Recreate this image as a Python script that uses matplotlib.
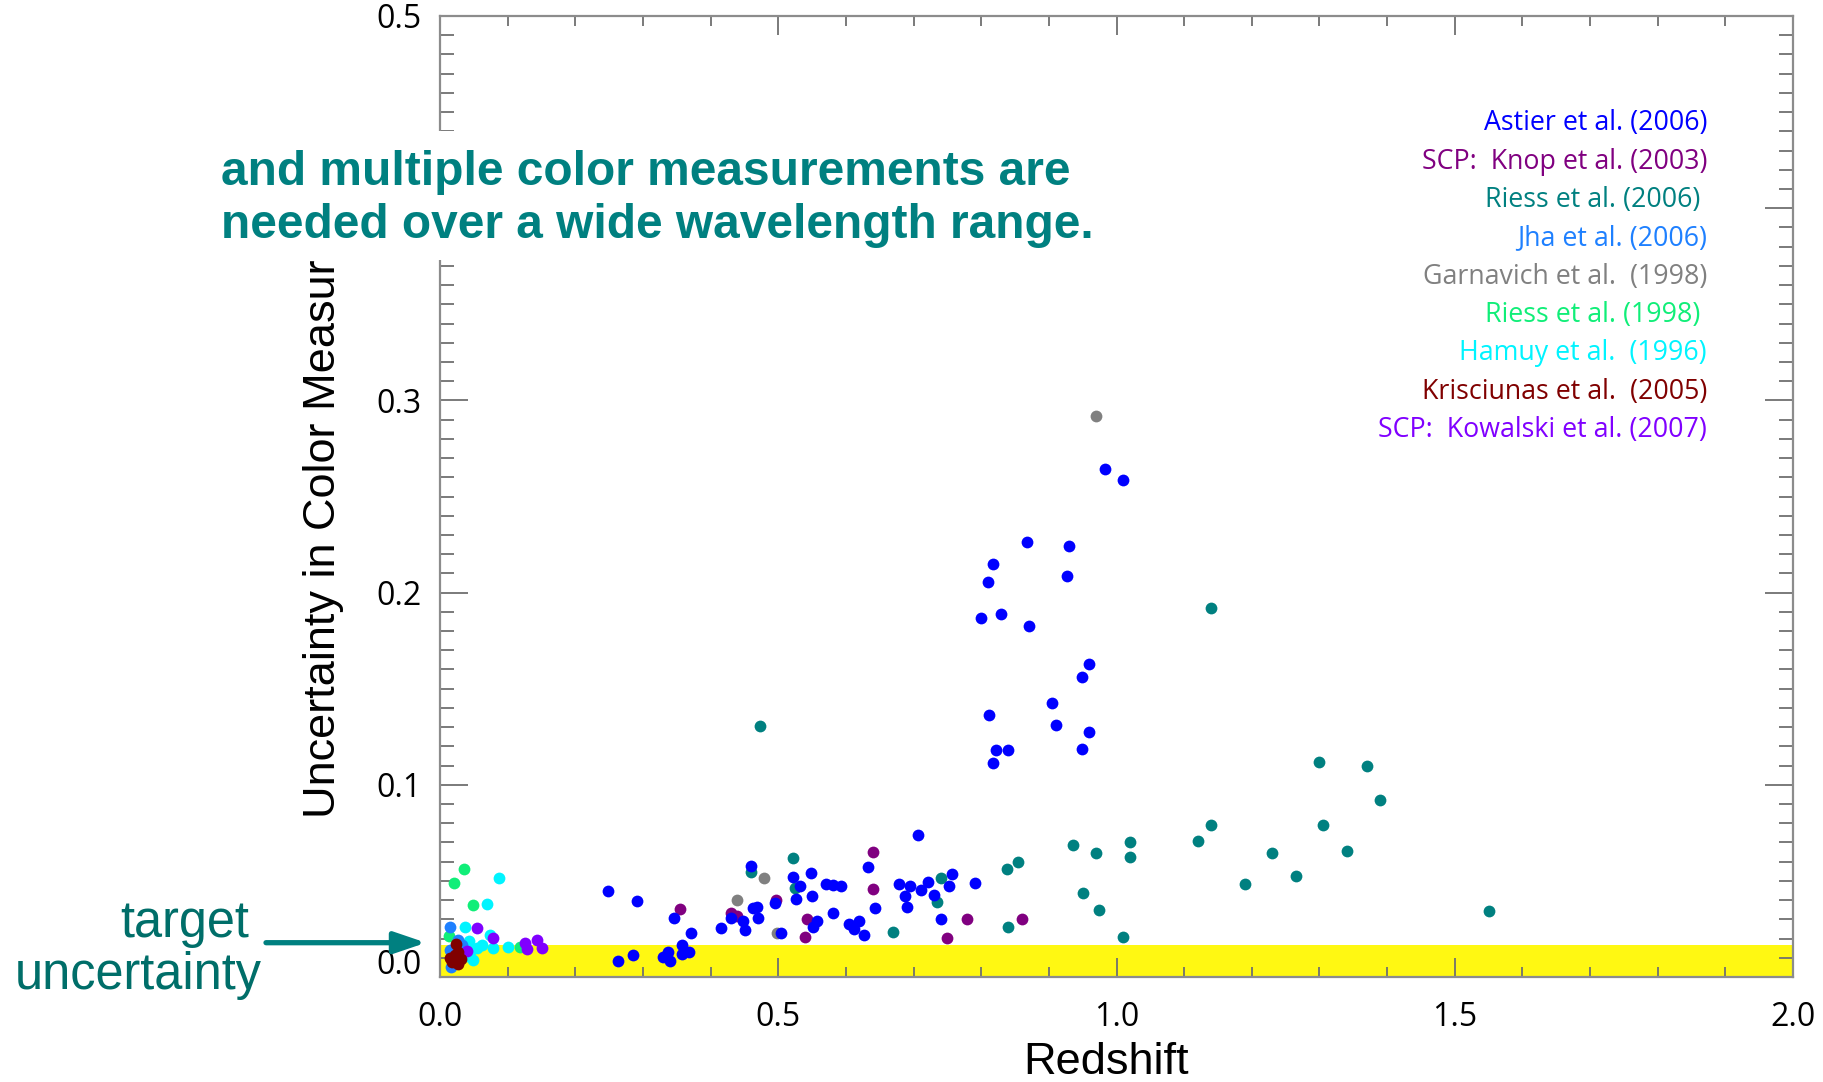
import matplotlib
matplotlib.use("Agg")
import matplotlib.pyplot as plt
import matplotlib.patches as patches
from matplotlib.ticker import MultipleLocator, FuncFormatter, FormatStrFormatter

# colour uncertainty vs redshift for each SN Ia sample
astier_z = [0.983, 1.010, 0.868, 0.930, 0.818, 0.810, 0.927, 0.800, 0.830, 0.870,
            0.960, 0.9485, 0.9046, 0.811, 0.910, 0.960, 0.9495, 0.8214, 0.840, 0.817,
            0.2483, 0.2912, 0.2636, 0.2848, 0.330, 0.3365, 0.340, 0.3572, 0.358, 0.3686,
            0.3705, 0.3459, 0.415, 0.4297, 0.4484, 0.4509, 0.470, 0.4622, 0.468, 0.4602,
            0.4957, 0.504, 0.5213, 0.5322, 0.5258, 0.548, 0.5499, 0.5569, 0.5518, 0.5706,
            0.5814, 0.5923, 0.581, 0.6041, 0.6199, 0.612, 0.6263, 0.6332, 0.643, 0.7066,
            0.6785, 0.6952, 0.6879, 0.6909, 0.7105, 0.7218, 0.7302, 0.7567, 0.7523, 0.7406,
            0.7908]
astier_err = [0.2643, 0.2586, 0.2262, 0.2244, 0.2149, 0.2053, 0.2085, 0.1868, 0.189, 0.1828,
              0.1627, 0.1561, 0.1427, 0.1365, 0.1311, 0.1273, 0.1186, 0.1179, 0.1183, 0.1112,
              0.0446, 0.0394, 0.0085, 0.0113, 0.0102, 0.0128, 0.0082, 0.0166, 0.012, 0.0128,
              0.0227, 0.0305, 0.0253, 0.0305, 0.0291, 0.0246, 0.0307, 0.0359, 0.0362, 0.0576,
              0.0385, 0.0227, 0.0519, 0.0475, 0.0407, 0.054, 0.0423, 0.029, 0.0259, 0.0482,
              0.0479, 0.0472, 0.0333, 0.0274, 0.0291, 0.0248, 0.0219, 0.0571, 0.0357, 0.0739,
              0.0482, 0.0472, 0.042, 0.0364, 0.0451, 0.0493, 0.0428, 0.0536, 0.0472, 0.030,
              0.0489]

knop_z = [0.3543, 0.4297, 0.4396, 0.4967, 0.5421, 0.5396, 0.6397, 0.6397, 0.7494, 0.7795, 0.8598]
knop_err = [0.0355, 0.0335, 0.0319, 0.040, 0.030, 0.021, 0.065, 0.0458, 0.0203, 0.030, 0.030]

riess06_z = [0.4593, 0.4736, 0.5213, 0.5248, 0.6697, 0.7401, 0.7351, 0.8386, 0.8539, 0.8401,
             0.9352, 0.9697, 0.950, 0.9746, 1.0101, 1.0204, 1.0204, 1.1397, 1.1397, 1.120,
             1.190, 1.2303, 1.2649, 1.2998, 1.3048, 1.3403, 1.370, 1.390, 1.5506]
riess06_err = [0.0545, 0.1304, 0.0621, 0.0461, 0.0234, 0.0515, 0.039, 0.0563, 0.060, 0.026,
               0.0688, 0.0647, 0.0439, 0.0347, 0.021, 0.070, 0.0626, 0.192, 0.0789, 0.0709,
               0.0484, 0.0647, 0.0524, 0.112, 0.0789, 0.0656, 0.110, 0.0921, 0.0342]

jha_z = [0.0153, 0.027, 0.0148, 0.0158, 0.021, 0.033]
jha_err = [0.0262, 0.0193, 0.014, 0.0054, 0.0105, 0.0165]

garnavich_z = [0.4396, 0.4785, 0.4977, 0.970]
garnavich_err = [0.0399, 0.0517, 0.0227, 0.2919]

riess98_z = [0.035, 0.0212, 0.0483, 0.0138, 0.118]
riess98_err = [0.056, 0.049, 0.0373, 0.0212, 0.0154]

hamuy_z = [0.0872, 0.070, 0.0365, 0.0744, 0.0433, 0.0616, 0.078, 0.1005, 0.0493, 0.045, 0.055, 0.038]
hamuy_err = [0.0515, 0.0381, 0.026, 0.022, 0.0189, 0.0168, 0.0149, 0.0154, 0.0088, 0.013, 0.015, 0.011]

kowalski_z = [0.054, 0.0783, 0.1251, 0.129, 0.1439, 0.1513, 0.040]
kowalski_err = [0.0255, 0.0201, 0.0175, 0.0146, 0.019, 0.0153, 0.0135]

krisciunas_z = [0.0237, 0.027, 0.0148, 0.0306, 0.022, 0.018, 0.026]
krisciunas_err = [0.0172, 0.0132, 0.0097, 0.0094, 0.0115, 0.008, 0.007]

target_err = 0.0165

legend_labels = ["Astier et al. (2006)", "SCP:  Knop et al. (2003)", "Riess et al. (2006) ",
                 "Jha et al. (2006)", "Garnavich et al.  (1998)", "Riess et al. (1998) ",
                 "Hamuy et al.  (1996)", "Krisciunas et al.  (2005)", "SCP:  Kowalski et al. (2007)"]

C_ASTIER = '#0000ff'
C_KNOP = '#800080'
C_RIESS06 = '#008080'
C_JHA = '#1e80ff'
C_GARN = '#808080'
C_RIESS98 = '#10ee78'
C_HAMUY = '#00f4ff'
C_KRIS = '#800000'
C_KOWAL = '#8000ff'
legend_colors = [C_ASTIER, C_KNOP, C_RIESS06, C_JHA, C_GARN, C_RIESS98, C_HAMUY, C_KRIS, C_KOWAL]

W, H = 1823, 1082


def px(x, y):
    # pixel position (from top-left) -> figure fraction
    return x / W, 1 - y / H


fig = plt.figure(figsize=(W / 100, H / 100), dpi=100, facecolor='w')
ax = fig.add_axes([440 / W, 1 - 977 / H, (1793 - 440) / W, (977 - 16) / H])

ax.set_xlim(0, 2.0)
ax.set_ylim(0, 0.5)

# target band
ax.axhspan(0, target_err, color='#fff812', lw=0, zorder=0.5)

ms = 72
ax.scatter(riess06_z, riess06_err, s=ms, color=C_RIESS06, lw=0, zorder=3)
ax.scatter(garnavich_z, garnavich_err, s=ms, color=C_GARN, lw=0, zorder=3)
ax.scatter(knop_z, knop_err, s=ms, color=C_KNOP, lw=0, zorder=3)
ax.scatter(riess98_z, riess98_err, s=ms, color=C_RIESS98, lw=0, zorder=3)
ax.scatter(hamuy_z, hamuy_err, s=ms, color=C_HAMUY, lw=0, zorder=3)
ax.scatter(jha_z, jha_err, s=ms, color=C_JHA, lw=0, zorder=3)
ax.scatter(kowalski_z, kowalski_err, s=ms, color=C_KOWAL, lw=0, zorder=3)
ax.scatter(krisciunas_z, krisciunas_err, s=ms, color=C_KRIS, lw=0, zorder=3)
ax.scatter(astier_z, astier_err, s=ms, color=C_ASTIER, lw=0, zorder=3)

# axes frame and ticks
for sp in ax.spines.values():
    sp.set_color('#8c8c8c')
    sp.set_linewidth(1.6)

ax.xaxis.set_major_locator(MultipleLocator(0.5))
ax.xaxis.set_minor_locator(MultipleLocator(0.1))
ax.yaxis.set_major_locator(MultipleLocator(0.1))
ax.yaxis.set_minor_locator(MultipleLocator(0.01))
ax.xaxis.set_major_formatter(FormatStrFormatter('%.1f'))
# 0.0 on the y axis is written separately, a little higher
ax.yaxis.set_major_formatter(FuncFormatter(lambda v, pos: '' if abs(v) < 1e-9 else '%.1f' % v))

ax.tick_params(which='both', direction='in', top=True, right=True,
               color='#707070', labelcolor='black', width=1.3)
ax.tick_params(axis='x', which='major', length=14, pad=17, labelsize=23)
ax.tick_params(axis='x', which='minor', length=7)
ax.tick_params(axis='y', which='major', length=20, pad=13, labelsize=23)
ax.tick_params(axis='y', which='minor', length=10)
for lab in ax.get_xticklabels() + ax.get_yticklabels():
    lab.set_family('Open Sans')

ax.annotate('0.0', xy=(0, 0), xycoords=('axes fraction', 'data'),
            xytext=(-18, 11), textcoords='offset pixels', ha='right', va='center',
            fontsize=23, family='Open Sans', color='black')

# axis titles
fig.text(*px(1106, 1062), "Redshift", ha='center', va='center',
         fontsize=32.5, family='Liberation Sans', color='black')
fig.text(*px(323, 476), "Uncertainty in Color Measurement", ha='center', va='center',
         rotation=90, fontsize=32.5, family='Liberation Sans', color='black', zorder=1)

# sample key
for i, (lab, col) in enumerate(zip(legend_labels, legend_colors)):
    fig.text(*px(1707, 123.5 + 38.3 * i), lab, ha='right', va='center',
             fontsize=19.3, family='Open Sans', color=col)

# caption panel over the upper left
fig.add_artist(patches.Rectangle(px(0, 260), 1110 / W, 129 / H, transform=fig.transFigure,
                                 facecolor='white', edgecolor='none', zorder=5))
fig.text(*px(221, 185), "and multiple color measurements are", ha='left', va='baseline',
         fontsize=34.5, family='Liberation Sans', weight='bold', color='#008080', zorder=6)
fig.text(*px(221, 238.5), "needed over a wide wavelength range.", ha='left', va='baseline',
         fontsize=34.5, family='Liberation Sans', weight='bold', color='#008080', zorder=6)

# target marker
fig.text(*px(249, 937), "target", ha='right', va='baseline',
         fontsize=36.4, family='Liberation Sans', color='#006e69')
fig.text(*px(262, 989), "uncertainty", ha='right', va='baseline',
         fontsize=36.4, family='Liberation Sans', color='#006e69')
fig.add_artist(patches.FancyArrowPatch(px(266, 942.7), px(426, 942.7), transform=fig.transFigure,
                                       arrowstyle='-|>,head_length=1.0,head_width=0.34',
                                       mutation_scale=19, lw=3.8, color='#008080',
                                       shrinkA=0, shrinkB=0, zorder=6))

fig.savefig('out.png', dpi=100, facecolor='w')
